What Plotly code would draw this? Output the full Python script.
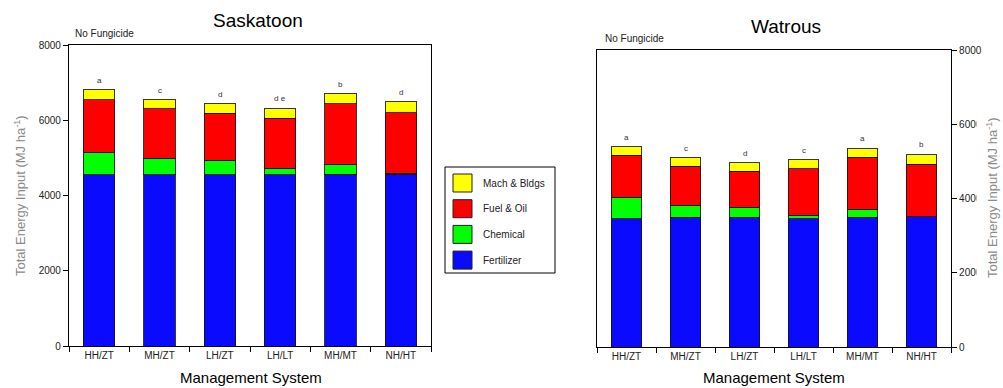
import plotly.graph_objects as go

W, H = 1003, 388

categories = ["HH/ZT", "MH/ZT", "LH/ZT", "LH/LT", "MH/MT", "NH/HT"]
components = ["Fertilizer", "Chemical", "Fuel & Oil", "Mach & Bldgs"]
colors = ["#0a0aff", "#00ff00", "#ff0000", "#ffff00"]

# Saskatoon (component values, MJ/ha)
sask_fertilizer = [4550, 4550, 4550, 4550, 4565, 4565]
sask_chemical = [590, 440, 390, 170, 255, 30]
sask_fuel = [1400, 1310, 1250, 1335, 1615, 1610]
sask_mach = [265, 240, 245, 265, 265, 285]
sask_letters = ["a", "c", "d", "d e", "b", "d"]

# Watrous
wat_fertilizer = [3455, 3500, 3500, 3455, 3500, 3510]
wat_chemical = [575, 320, 260, 100, 215, 0]
wat_fuel = [1130, 1045, 970, 1245, 1390, 1410]
wat_mach = [230, 230, 230, 240, 245, 270]
wat_letters = ["a", "c", "d", "c", "a", "b"]

sites = [
    ("Saskatoon", [sask_fertilizer, sask_chemical, sask_fuel, sask_mach], sask_letters, "x", "y"),
    ("Watrous", [wat_fertilizer, wat_chemical, wat_fuel, wat_mach], wat_letters, "x2", "y2"),
]

FONT = "Liberation Sans, Arial, sans-serif"
fig = go.Figure()

for name, series, letters, xa, ya in sites:
    for comp, vals, col in zip(components, series, colors):
        fig.add_trace(go.Bar(
            x=categories, y=vals, name=comp, xaxis=xa, yaxis=ya,
            marker=dict(color=col, line=dict(color="rgba(20,20,20,0.85)", width=1)),
            showlegend=False, hoverinfo="skip",
        ))
    totals = [sum(v) for v in zip(*series)]
    for c, t, lab in zip(categories, totals, letters):
        fig.add_annotation(x=c, y=t, xref=xa, yref=ya, text=lab, showarrow=False,
                           yanchor="bottom", yshift=3, font=dict(size=8, color="#333", family=FONT))

def px(x):
    return x / W

def py(y):
    return 1 - y / H

axis_common = dict(showline=True, linecolor="black", linewidth=1.2, mirror=True,
                   showgrid=False, zeroline=False, ticks="outside", ticklen=5,
                   tickcolor="black", automargin=False,
                   tickfont=dict(size=10, color="#222", family=FONT))

fig.update_layout(
    width=W, height=H, margin=dict(l=0, r=0, t=0, b=0, pad=0, autoexpand=False),
    paper_bgcolor="white", plot_bgcolor="white",
    barmode="stack", bargap=0.48, showlegend=False,
    font=dict(family=FONT),
    xaxis=dict(domain=[px(69), px(431)], anchor="y", tickson="boundaries", **axis_common),
    yaxis=dict(domain=[py(346), py(45)], anchor="x", range=[0, 8000],
               tickvals=[0, 2000, 4000, 6000, 8000], **axis_common),
    xaxis2=dict(domain=[px(597), px(951)], anchor="y2", tickson="boundaries", **axis_common),
    yaxis2=dict(domain=[py(347), py(50)], anchor="x2", range=[0, 8000], side="right",
                tickvals=[0, 2000, 4000, 6000, 8000], **axis_common),
)

# Titles and labels
ann = [
    dict(x=px(258), y=py(20), text="Saskatoon", size=19, color="black"),
    dict(x=px(786), y=py(27), text="Watrous", size=19, color="black"),
    dict(x=px(251), y=py(377), text="Management System", size=15, color="black"),
    dict(x=px(774), y=py(377), text="Management System", size=15, color="black"),
]
for a in ann:
    fig.add_annotation(x=a["x"], y=a["y"], xref="paper", yref="paper", text=a["text"],
                       showarrow=False, xanchor="center", yanchor="middle",
                       font=dict(size=a["size"], color=a["color"], family=FONT))

for x0, y0 in [(73, 33), (603, 39)]:
    fig.add_annotation(x=px(x0), y=py(y0), xref="paper", yref="paper", text="No Fungicide",
                       showarrow=False, xanchor="left", yanchor="middle",
                       font=dict(size=10, color="#222", family=FONT))

ytitle = "Total Energy Input (MJ ha<sup>-1</sup>)"
for x0, y0, bg, pad in [(20, 196, "rgba(0,0,0,0)", 0), (992, 198, "white", 7)]:
    fig.add_annotation(x=px(x0), y=py(y0), xref="paper", yref="paper", text=ytitle,
                       textangle=-90, showarrow=False, xanchor="center", yanchor="middle",
                       bgcolor=bg, borderpad=pad,
                       font=dict(size=13, color="#8a8a8a", family=FONT))

# Legend box (manual)
fig.add_shape(type="rect", xref="paper", yref="paper", x0=px(445), x1=px(555),
              y0=py(273), y1=py(167), line=dict(color="black", width=1), fillcolor="white")
legend_items = list(zip(components, colors))[::-1]
for i, (comp, col) in enumerate(legend_items):
    yc = 183 + i * 25.7
    fig.add_shape(type="rect", xref="paper", yref="paper", x0=px(453), x1=px(472),
                  y0=py(yc + 9), y1=py(yc - 9), line=dict(color="#222", width=1), fillcolor=col)
    fig.add_annotation(x=px(481), y=py(yc), xref="paper", yref="paper", text=comp,
                       showarrow=False, xanchor="left", yanchor="middle",
                       font=dict(size=10, color="#222", family=FONT))

fig.write_html("out.html")
